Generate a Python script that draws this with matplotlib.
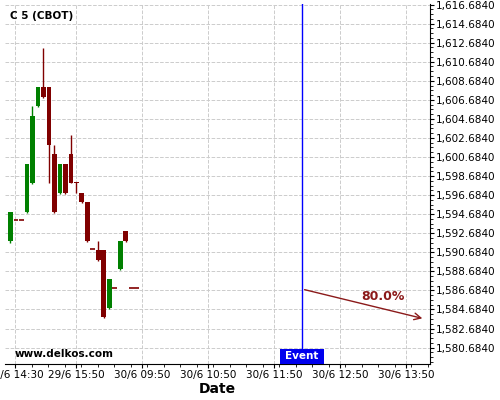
import numpy as np
import matplotlib
matplotlib.use('Agg')
import matplotlib.pyplot as plt
from matplotlib.patches import Rectangle
from matplotlib.ticker import FixedLocator, MultipleLocator, FuncFormatter

# candle data (5 min bars), index based x axis
opens = [1591.87, 1594.04, 1594.04, 1594.91, 1597.95, 1606.03, 1608.03, 1608.03,
         1600.99, 1596.90, 1599.95, 1600.99, 1598.03, 1596.90, 1595.96, 1591.00,
         1590.92, 1590.92, 1584.84, 1586.90, 1588.93, 1592.92, 1586.90, 1586.90]
highs = [1594.91, 1594.04, 1594.04, 1599.95, 1606.03, 1608.03, 1612.12, 1608.03,
         1601.94, 1599.95, 1599.95, 1602.99, 1598.03, 1596.90, 1595.96, 1591.00,
         1591.87, 1590.92, 1587.88, 1586.90, 1591.87, 1592.92, 1586.90, 1586.90]
lows = [1591.70, 1594.04, 1594.04, 1594.80, 1597.85, 1605.90, 1606.90, 1597.95,
        1594.85, 1596.80, 1596.80, 1597.95, 1596.90, 1595.90, 1591.80, 1591.00,
        1589.80, 1583.80, 1584.70, 1586.90, 1588.80, 1591.80, 1586.90, 1586.90]
closes = [1594.91, 1594.04, 1594.04, 1599.95, 1604.98, 1608.03, 1606.98, 1601.94,
          1594.91, 1599.95, 1596.90, 1597.95, 1597.95, 1595.96, 1591.87, 1591.00,
          1589.87, 1583.92, 1587.88, 1586.90, 1591.87, 1591.87, 1586.90, 1586.90]

tick_pos = [0.9, 12, 24, 36, 48, 60, 72]
tick_labels = ['29/6 14:30', '29/6 15:50', '30/6 09:50', '30/6 10:50',
               '30/6 11:50', '30/6 12:50', '30/6 13:50']

event_x = 53.0
arrow_start = (53.0, 1586.83)
arrow_end = (75.4, 1583.68)
prob_label = '80.0%'

green = '#008000'
red = '#800000'

fig = plt.figure(figsize=(5, 4), dpi=100)
ax = fig.add_axes([0.01, 0.09, 0.85, 0.9])

w = 0.9
for i in range(len(opens)):
    o, h, l, c = opens[i], highs[i], lows[i], closes[i]
    col = green if c > o else red
    ax.vlines(i, l, h, color=col, linewidth=1, zorder=3)
    if abs(c - o) < 0.05:
        ax.hlines(o, i - w / 2, i + w / 2, color=col, linewidth=1.2, zorder=3)
    else:
        ax.bar(i, abs(c - o), bottom=min(o, c), width=w, color=col,
               linewidth=0, zorder=4)

ax.set_xlim(-1.0, 76.3)
ax.set_ylim(1578.96, 1616.74)

# axes look
for s in ['left', 'top']:
    ax.spines[s].set_visible(False)
ax.yaxis.tick_right()
ax.yaxis.set_major_locator(MultipleLocator(2, offset=0.684))
ax.yaxis.set_minor_locator(MultipleLocator(0.5, offset=0.184))
ax.yaxis.set_major_formatter(FuncFormatter(lambda v, p: '{:,.4f}'.format(v)))
ax.xaxis.set_major_locator(FixedLocator(tick_pos))
ax.xaxis.set_minor_locator(FixedLocator(np.arange(tick_pos[0], 76, 3)))
ax.set_xticklabels(tick_labels)
ax.tick_params(axis='both', which='major', labelsize=7.5, length=3, pad=1)
ax.tick_params(axis='both', which='minor', length=2)
ax.grid(True, which='major', color='#cccccc', linestyle='--', linewidth=0.7)
ax.set_xlabel('Date', fontsize=10, fontweight='bold', labelpad=2)

# event marker
ax.axvline(event_x, color='blue', linewidth=1, zorder=5)
trans = ax.get_xaxis_transform()
ax.add_patch(Rectangle((event_x - 4.0, 0), 8.0, 0.042, transform=trans,
                       fc='#0000ee', ec='none', zorder=6))
ax.text(event_x, 0.021, 'Event', transform=trans, color='white', fontsize=7.5,
        fontweight='bold', ha='center', va='center', zorder=7)

ax.annotate('', xy=arrow_end, xytext=arrow_start,
            arrowprops=dict(arrowstyle='->', color='#8b1a1a', lw=1,
                            mutation_scale=12), zorder=6)
ax.text(67.7, 1586.0, prob_label, color='#8b1a1a', fontsize=9,
        fontweight='bold', ha='center', va='center')

ax.text(0.012, 0.966, 'C 5 (CBOT)', transform=ax.transAxes, fontsize=7.5,
        fontweight='bold', va='center')
ax.text(0.022, 0.028, 'www.delkos.com', transform=ax.transAxes, fontsize=7.5,
        fontweight='bold', va='center')

fig.savefig('out.png')
